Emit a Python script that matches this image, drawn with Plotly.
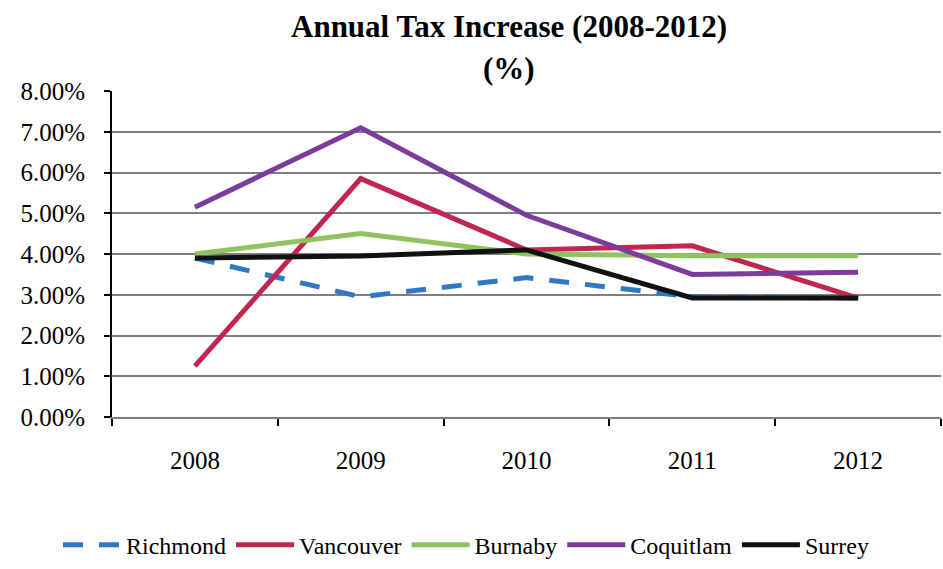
import plotly.graph_objects as go

years = ["2008", "2009", "2010", "2011", "2012"]
richmond = [3.90, 2.95, 3.42, 2.95, 2.92]
vancouver = [1.25, 5.85, 4.10, 4.20, 2.92]
burnaby = [4.00, 4.50, 4.00, 3.96, 3.96]
coquitlam = [5.15, 7.10, 4.95, 3.50, 3.55]
surrey = [3.90, 3.95, 4.10, 2.92, 2.92]
y_ticks = [0, 1, 2, 3, 4, 5, 6, 7, 8]
y_labels = [f"{v:.2f}%" for v in y_ticks]

series = [
    ("Richmond", richmond, "#2f78c4", "20px,16px"),
    ("Vancouver", vancouver, "#c0264f", "solid"),
    ("Burnaby", burnaby, "#8fc35f", "solid"),
    ("Coquitlam", coquitlam, "#7b3c9c", "solid"),
    ("Surrey", surrey, "#111111", "solid"),
]

FONT = "Liberation Serif"

fig = go.Figure()
for name, vals, color, dash in series:
    fig.add_trace(go.Scatter(
        x=years, y=vals, name=name, mode="lines",
        line=dict(color=color, width=5, dash=dash),
    ))

fig.update_layout(
    width=943, height=569,
    margin=dict(l=112, r=2, t=91, b=150),
    paper_bgcolor="white", plot_bgcolor="white",
    font=dict(family=FONT, size=24, color="black"),
    showlegend=True,
    legend=dict(
        orientation="h", x=0.427, xanchor="center",
        y=-0.393, yanchor="middle",
        font=dict(family=FONT, size=24, color="black"),
        itemwidth=58, tracegroupgap=0,
    ),
    xaxis=dict(
        type="category", range=[-0.5, 4.5],
        showline=True, linecolor="#808080", linewidth=2,
        showgrid=False, ticks="outside", tickson="boundaries",
        ticklen=7, tickcolor="black", tickwidth=2,
        ticklabelstandoff=20,
        tickfont=dict(family=FONT, size=25, color="black"),
    ),
    yaxis=dict(
        range=[0, 8], tickvals=y_ticks, ticktext=y_labels,
        showline=True, linecolor="black", linewidth=2,
        showgrid=True, gridcolor="#7f7f7f", gridwidth=2,
        ticks="outside", ticklen=6, tickcolor="black", tickwidth=2,
        ticklabelstandoff=14, zeroline=False,
        tickfont=dict(family=FONT, size=25, color="black"),
    ),
    annotations=[
        dict(text="<b>Annual Tax Increase (2008-2012)</b>", xref="paper", yref="paper",
             x=0.479, y=1 + (91 - 26) / 328, xanchor="center", yanchor="middle",
             showarrow=False, font=dict(family=FONT, size=31, color="black")),
        dict(text="<b>(%)</b>", xref="paper", yref="paper",
             x=0.479, y=1 + (91 - 68) / 328, xanchor="center", yanchor="middle",
             showarrow=False, font=dict(family=FONT, size=31, color="black")),
    ],
)

fig.write_html("out.html")
